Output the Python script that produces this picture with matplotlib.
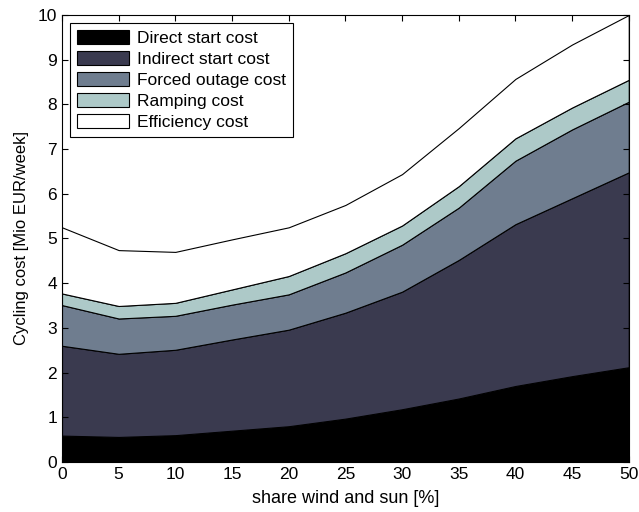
import matplotlib
matplotlib.use("Agg")
import matplotlib.pyplot as plt
import numpy as np

# share of wind and sun [%]
share = [0, 5, 10, 15, 20, 25, 30, 35, 40, 45, 50]

# cost components [Mio EUR/week]
direct_start = [0.59, 0.56, 0.60, 0.70, 0.80, 0.97, 1.18, 1.42, 1.70, 1.92, 2.12]
indirect_start = [2.01, 1.86, 1.91, 2.04, 2.16, 2.37, 2.63, 3.10, 3.62, 3.98, 4.36]
forced_outage = [0.91, 0.79, 0.76, 0.78, 0.79, 0.90, 1.05, 1.17, 1.42, 1.54, 1.58]
ramping = [0.26, 0.28, 0.29, 0.34, 0.41, 0.43, 0.43, 0.48, 0.50, 0.49, 0.49]
efficiency = [1.48, 1.25, 1.14, 1.12, 1.09, 1.08, 1.15, 1.30, 1.33, 1.41, 1.45]

labels = ["Direct start cost", "Indirect start cost", "Forced outage cost",
          "Ramping cost", "Efficiency cost"]
colors = ["#000000", "#3a3a4f", "#6f7d8f", "#adc9c8", "#ffffff"]

plt.rcParams["font.family"] = ["Liberation Sans", "DejaVu Sans"]
plt.rcParams["font.size"] = 12.5

fig = plt.figure(figsize=(6.39, 5.12), dpi=100)
ax = fig.add_axes([0.097, 0.0977, 0.887, 0.873])

ax.stackplot(share, direct_start, indirect_start, forced_outage,
             ramping, efficiency, colors=colors, labels=labels,
             edgecolor="black", linewidth=0.8)

ax.set_xlim(0, 50)
ax.set_ylim(0, 10)
ax.set_xticks(np.arange(0, 51, 5))
ax.set_yticks(np.arange(0, 11, 1))
ax.tick_params(direction="in", top=True, right=True, length=4.5, width=0.8,
               labelsize=12.5, pad=3.5)
for s in ax.spines.values():
    s.set_linewidth(0.8)

ax.set_xlabel("share wind and sun [%]", fontsize=13, labelpad=6)
ax.set_ylabel("Cycling cost [Mio EUR/week]", fontsize=12, labelpad=6)

leg = ax.legend(loc="upper left", fancybox=False, edgecolor="black",
                framealpha=1, fontsize=12.5, borderaxespad=0.45,
                handlelength=3.0, handleheight=0.92, labelspacing=0.27,
                handletextpad=0.45, borderpad=0.4)
leg.get_frame().set_linewidth(0.8)

fig.savefig("out.png", dpi=100)
